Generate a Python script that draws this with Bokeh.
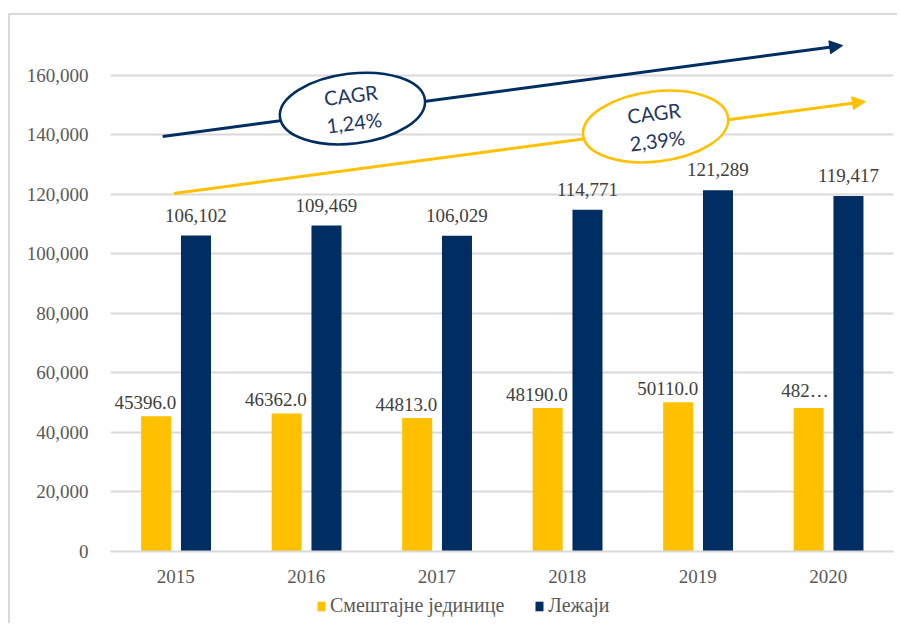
from bokeh.plotting import figure
from bokeh.layouts import column
from bokeh.models import (Range1d, FactorRange, FixedTicker, NumeralTickFormatter,
                          Legend, LegendItem, Arrow, NormalHead, ColumnDataSource)
from bokeh.transform import dodge
from bokeh.core.properties import value
from bokeh.embed import file_html
from bokeh.resources import INLINE

years = ["2015", "2016", "2017", "2018", "2019", "2020"]
units = [45396, 46362, 44813, 48190, 50110, 48220]        # Смештајне јединице
beds = [106102, 109469, 106029, 114771, 121289, 119417]   # Лежаји
unit_labels = ["45396.0", "46362.0", "44813.0", "48190.0", "50110.0", "482…"]
bed_labels = ["106,102", "109,469", "106,029", "114,771", "121,289", "119,417"]
series_names = ["Смештајне јединице", "Лежаји"]
y_ticks = [0, 20000, 40000, 60000, 80000, 100000, 120000, 140000, 160000]

# CAGR annotations (synthetic category x, value y)
cagr_texts = ["CAGR\n1,24%", "CAGR\n2,39%"]
cagr_x = [1.854, 4.177]
cagr_y = [148760, 142720]
navy_arrow = (0.40, 139360, 5.61, 169900)
yellow_arrow = (0.485, 120220, 5.785, 151100)

YELLOW = "#FFC000"
NAVY = "#002D62"
SERIF_NAME = "Times New Roman"
SERIF = value(SERIF_NAME)
FS = "19px"

src = ColumnDataSource(dict(years=years, units=units, beds=beds,
                            unit_labels=unit_labels, bed_labels=bed_labels))

p = figure(x_range=FactorRange(*years), y_range=Range1d(0, 180000),
           width=887, height=572, output_backend="svg", toolbar_location=None,
           min_border_left=100, min_border_right=4, min_border_top=0, min_border_bottom=36)
p.outline_line_color = None
p.background_fill_color = "white"
p.border_fill_color = "white"

# arrows behind ellipses
for (x0, y0, x1, y1), col in [(navy_arrow, NAVY), (yellow_arrow, YELLOW)]:
    p.add_layout(Arrow(x_start=x0, y_start=y0, x_end=x1, y_end=y1,
                       line_color=col, line_width=3,
                       end=NormalHead(size=13, fill_color=col, line_color=col),
                       level="underlay"))

r1 = p.vbar(x=dodge("years", -0.15, range=p.x_range), top="units", width=0.23,
            source=src, fill_color=YELLOW, line_color=None)
r2 = p.vbar(x=dodge("years", 0.155, range=p.x_range), top="beds", width=0.23,
            source=src, fill_color=NAVY, line_color=None)

p.text(x=dodge("years", -0.035, range=p.x_range), y="units", text="unit_labels",
       source=src, text_align="right", text_baseline="bottom", x_offset=5, y_offset=-7,
       text_font=SERIF, text_font_size=FS, text_color="#404040")
p.text(x=dodge("years", 0.155, range=p.x_range), y="beds", text="bed_labels",
       source=src, text_align="center", text_baseline="bottom", y_offset=-14,
       text_font=SERIF, text_font_size=FS, text_color="#404040")

# CAGR ellipses
p.ellipse(x=cagr_x[:1], y=cagr_y[:1], width=146, height=70, angle=0.12,
          width_units="screen", height_units="screen",
          fill_color="white", line_color=NAVY, line_width=2.5)
p.ellipse(x=cagr_x[1:], y=cagr_y[1:], width=146, height=70, angle=0.12,
          width_units="screen", height_units="screen",
          fill_color="white", line_color=YELLOW, line_width=2.5)
p.text(x=cagr_x, y=cagr_y, text=cagr_texts, angle=0.12, text_align="center",
       text_baseline="middle", text_font=value("Lato"), text_font_size="20px",
       text_color="#1F3864", text_line_height=1.15)

# axes
p.yaxis.ticker = FixedTicker(ticks=y_ticks)
p.yaxis.formatter = NumeralTickFormatter(format="0,0")
for ax in (p.xaxis[0], p.yaxis[0]):
    ax.major_tick_line_color = None
    ax.minor_tick_line_color = None
    ax.major_label_text_font = SERIF_NAME
    ax.major_label_text_font_size = FS
    ax.major_label_text_color = "#595959"
p.yaxis.axis_line_color = None
p.yaxis.major_label_standoff = 16
p.xaxis.axis_line_color = "#d9d9d9"
p.xaxis.axis_line_width = 2
p.xaxis.major_label_standoff = 12
p.xgrid.grid_line_color = None
p.ygrid.grid_line_color = "#d9d9d9"
p.ygrid.grid_line_width = 2
p.x_range.range_padding = 0
p.x_range.group_padding = 0

# legend strip below the chart (its frame is aligned with the chart's frame)
p2 = figure(width=887, height=36, output_backend="svg", toolbar_location=None,
            x_range=Range1d(0, 1), y_range=Range1d(0, 1),
            x_axis_location=None, y_axis_location=None,
            min_border_left=0, min_border_right=0, min_border_top=0, min_border_bottom=0)
p2.outline_line_color = None
p2.grid.grid_line_color = None
p2.background_fill_color = "white"
p2.border_fill_color = "white"
# legend proxies: zero-height bars, so nothing is visible in the strip itself
g1 = p2.vbar(x=[0.5], top=[0], bottom=[0], width=0.001, fill_color=YELLOW, line_color=None)
g2 = p2.vbar(x=[0.5], top=[0], bottom=[0], width=0.001, fill_color=NAVY, line_color=None)
legend = Legend(items=[LegendItem(label=series_names[0], renderers=[g1]),
                       LegendItem(label=series_names[1], renderers=[g2])],
                orientation="horizontal", location=(206, 6),
                label_text_font=SERIF_NAME, label_text_font_size="20px",
                label_text_color="#595959", glyph_width=10, glyph_height=12,
                spacing=30, padding=2, margin=0, border_line_color=None,
                background_fill_alpha=0, label_standoff=4)
p2.add_layout(legend, "center")

layout = column(p, p2, spacing=0)
layout.styles = {"border-top": "2px solid #d9d9d9", "border-left": "2px solid #d9d9d9",
                 "margin-top": "13px", "margin-left": "8px"}

open("out.html", "w").write(file_html(layout, INLINE))
